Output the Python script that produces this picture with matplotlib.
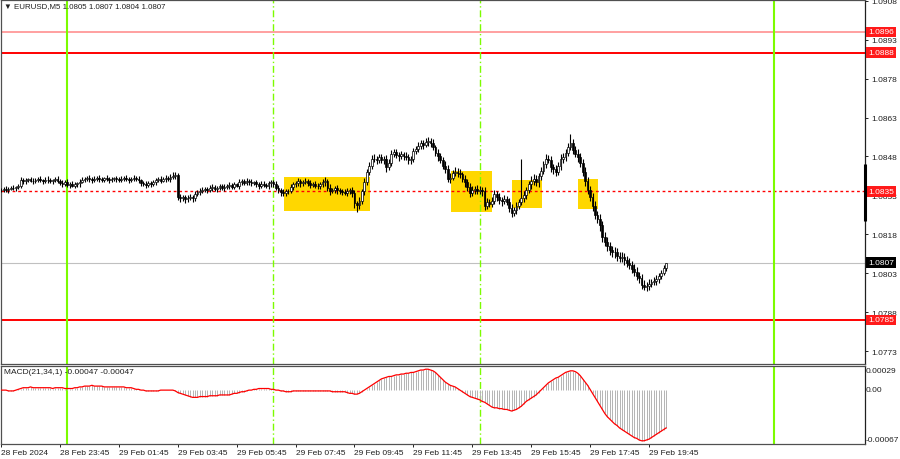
import matplotlib
matplotlib.use("Agg")
import matplotlib.pyplot as plt
from matplotlib.patches import Rectangle
import numpy as np

plt.rcParams['font.family'] = ['Liberation Sans', 'DejaVu Sans']

# ---------------- data ----------------
base = 1.08
first_open_pts = 350
# closes in points (1e-5) above 1.08000, one per M5 bar starting 28 Feb 21:45
close_pts = [
    352, 355, 350, 356, 360, 358, 362, 365, 388, 384,
    388, 392, 386, 384, 390, 394, 388, 386, 391, 388,
    385, 389, 393, 387, 378, 375, 380, 370, 374, 367,
    372, 376, 382, 390, 394, 398, 392, 388, 395, 398,
    394, 390, 396, 392, 388, 394, 396, 392, 388, 394,
    398, 393, 389, 394, 398, 395, 388, 378, 374, 370,
    376, 372, 382, 388, 392, 386, 394, 398, 392, 400,
    405, 410, 322, 318, 322, 315, 320, 325, 318, 335,
    342, 348, 352, 356, 350, 358, 362, 355, 360, 365,
    358, 362, 366, 370, 364, 372, 368, 380, 384, 378,
    386, 382, 376, 380, 372, 368, 374, 370, 366, 376,
    380, 372, 360, 350, 342, 338, 345, 348, 362, 372,
    378, 384, 376, 380, 386, 378, 370, 374, 368, 366,
    372, 380, 384, 360, 348, 352, 358, 350, 346, 344,
    340, 348, 352, 338, 300, 292, 310, 345, 380, 420,
    445, 472, 470, 465, 476, 468, 472, 440, 455, 490,
    498, 485, 480, 488, 482, 478, 465, 470, 500, 510,
    520, 530, 525, 535, 540, 532, 515, 495, 480, 465,
    445, 432, 392, 398, 415, 422, 418, 412, 395, 380,
    362, 340, 352, 355, 348, 352, 345, 290, 305, 298,
    310, 335, 325, 312, 308, 315, 305, 280, 262, 275,
    290, 305, 320, 330, 350, 372, 385, 395, 380, 405,
    425, 450, 470, 468, 440, 430, 420, 445, 470, 478,
    495, 515, 530, 505, 490, 478, 455, 420, 385, 350,
    325, 290, 255, 240, 215, 170, 150, 135, 120, 110,
    112, 95, 88, 92, 80, 70, 62, 48, 35, 20,
    10, -15, -22, -18, -10, -5, 0, 8, 18, 30,
    50, 70,
]
wick_up_pts = [
    8, 6, 12, 6, 8, 10, 6, 8, 14, 10,
    8, 6, 10, 12, 6, 8, 10, 6, 8, 12,
    10, 6, 8, 12, 6, 10, 8, 12, 6, 10,
    8, 6, 12, 10, 8, 6, 12, 10, 8, 6,
    10, 8, 6, 12, 10, 8, 6, 10, 8, 12,
    6, 10, 8, 6, 12, 8, 10, 6, 8, 12,
    10, 8, 6, 10, 8, 12, 6, 10, 8, 12,
    16, 10, 8, 12, 10, 8, 10, 12, 8, 10,
    8, 12, 10, 6, 8, 12, 10, 8, 6, 10,
    8, 10, 6, 12, 8, 10, 6, 12, 10, 8,
    10, 8, 12, 6, 10, 8, 12, 10, 6, 8,
    10, 8, 12, 10, 8, 12, 10, 8, 12, 10,
    8, 12, 10, 8, 12, 6, 10, 8, 12, 10,
    8, 12, 16, 10, 12, 8, 10, 12, 8, 10,
    12, 10, 8, 12, 14, 10, 12, 10, 16, 12,
    14, 12, 16, 10, 12, 14, 10, 12, 16, 14,
    12, 10, 14, 12, 10, 16, 12, 10, 14, 12,
    16, 12, 14, 18, 16, 12, 14, 10, 12, 14,
    12, 16, 14, 18, 12, 16, 14, 12, 10, 14,
    12, 16, 14, 12, 16, 14, 12, 18, 14, 12,
    14, 16, 12, 14, 10, 16, 12, 14, 16, 12,
    14, 12, 151, 16, 14, 12, 18, 16, 14, 12,
    16, 14, 18, 16, 14, 12, 16, 14, 18, 16,
    14, 18, 38, 16, 14, 18, 16, 14, 18, 16,
    18, 16, 20, 14, 18, 16, 20, 18, 14, 16,
    18, 14, 16, 20, 14, 16, 18, 14, 16, 18,
    14, 16, 18, 14, 16, 12, 14, 16, 12, 14,
    12, 0,
]
wick_dn_pts = [
    6, 10, 8, 12, 6, 8, 10, 6, 8, 12,
    10, 8, 6, 12, 8, 10, 6, 12, 8, 10,
    8, 12, 6, 10, 8, 12, 10, 8, 12, 6,
    10, 8, 12, 6, 10, 8, 12, 10, 6, 8,
    12, 8, 10, 6, 12, 8, 10, 12, 6, 8,
    10, 8, 12, 6, 10, 8, 12, 10, 8, 12,
    8, 10, 6, 12, 8, 10, 6, 12, 8, 10,
    8, 12, 10, 12, 10, 14, 10, 8, 12, 10,
    8, 12, 10, 8, 12, 6, 10, 8, 12, 10,
    6, 10, 8, 12, 10, 8, 6, 12, 10, 8,
    8, 12, 10, 6, 8, 12, 10, 8, 6, 10,
    12, 10, 8, 12, 14, 10, 12, 8, 10, 12,
    8, 10, 12, 8, 6, 10, 12, 8, 10, 12,
    10, 8, 12, 14, 16, 10, 12, 14, 10, 12,
    10, 14, 12, 16, 18, 26, 14, 12, 14, 10,
    12, 14, 10, 16, 12, 14, 16, 18, 14, 12,
    14, 12, 16, 10, 14, 12, 16, 14, 10, 12,
    14, 12, 16, 10, 14, 16, 12, 14, 16, 12,
    14, 16, 12, 14, 10, 12, 16, 14, 12, 16,
    14, 18, 12, 16, 14, 12, 16, 16, 14, 12,
    14, 12, 16, 14, 18, 12, 14, 16, 14, 12,
    16, 14, 12, 16, 14, 12, 16, 14, 12, 16,
    14, 12, 16, 14, 18, 16, 14, 12, 16, 14,
    16, 14, 12, 16, 14, 18, 16, 14, 18, 16,
    18, 20, 16, 18, 22, 18, 16, 20, 18, 16,
    20, 18, 16, 14, 18, 16, 14, 18, 16, 18,
    16, 16, 14, 18, 16, 14, 12, 16, 14, 10,
    8, 10,
]
# MACD(21,34,1) main value per bar, in units of 1e-5
macd_pts = [
    0, 0, 0, -1, -1, -1, 0, 1, 2, 3,
    3, 3, 4, 3, 3, 3, 3, 3, 3, 3,
    3, 2, 3, 3, 3, 3, 2, 2, 2, 2,
    3, 3, 4, 4, 5, 5, 5, 6, 5, 5,
    5, 5, 4, 4, 4, 4, 4, 4, 4, 4,
    4, 3, 3, 3, 2, 1, 1, 0, 0, -1,
    -1, -1, -1, -1, -1, 0, 0, 0, 0, 0,
    0, -1, -3, -4, -5, -6, -7, -8, -9, -9,
    -9, -8, -8, -8, -8, -7, -7, -7, -7, -6,
    -6, -6, -6, -6, -5, -4, -4, -3, -2, -2,
    -1, 0, 0, 1, 1, 2, 2, 2, 2, 2,
    1, 1, 0, 0, -1, -1, -2, -2, -2, -1,
    -1, -1, -1, -1, -1, -1, -1, -1, -1, -1,
    -1, -1, -1, -1, -1, -2, -2, -2, -2, -2,
    -2, -3, -4, -4, -5, -5, -4, -2, 0, 2,
    4, 6, 8, 10, 12, 14, 15, 16, 17, 17,
    18, 19, 19, 20, 20, 21, 21, 22, 22, 23,
    24, 25, 25, 26, 26, 25, 24, 22, 19, 16,
    13, 10, 8, 6, 5, 4, 2, 0, -2, -4,
    -6, -8, -9, -10, -11, -12, -14, -15, -17, -19,
    -21, -22, -22, -23, -23, -24, -24, -25, -26, -25,
    -24, -22, -20, -17, -14, -12, -10, -8, -6, -3,
    0, 3, 6, 9, 11, 13, 15, 16, 18, 20,
    22, 23, 24, 24, 23, 21, 18, 14, 10, 6,
    1, -4, -9, -14, -19, -24, -29, -33, -36, -39,
    -42, -44, -47, -49, -51, -53, -55, -57, -59, -60,
    -62, -63, -63, -62, -61, -59, -57, -55, -53, -51,
    -49, -47,
]

title_text = "▼ EURUSD,M5 1.0805 1.0807 1.0804 1.0807"
macd_text = "MACD(21,34,1) -0.00047 -0.00047"

price_ticks = [1.0908, 1.0893, 1.0878, 1.0863, 1.0848, 1.0833, 1.0818, 1.0803, 1.0788, 1.0773]
macd_tick_labels = ["0.00029", "0.00", "-0.00067"]

time_tick_bars = [0, 24, 48, 72, 96, 120, 144, 168, 192, 216, 240, 264]
time_tick_labels = ["28 Feb 2024", "28 Feb 23:45", "29 Feb 01:45", "29 Feb 03:45",
                    "29 Feb 05:45", "29 Feb 07:45", "29 Feb 09:45", "29 Feb 11:45",
                    "29 Feb 13:45", "29 Feb 15:45", "29 Feb 17:45", "29 Feb 19:45"]

day_sep_bars = [27, 315]        # 00:00 lines (solid green)
session_bars = [111, 195]       # 07:00 and 14:00 (dash-dot green)

box_start = [115.4, 183.3, 208.1, 235.0]
box_end = [150.4, 200.0, 220.3, 243.1]
box_low = [1.08270, 1.08266, 1.08282, 1.08278]
box_high = [1.08402, 1.08425, 1.08390, 1.08394]

line_prices = [1.0896, 1.0888, 1.08345, 1.0807, 1.0785]
line_labels = ["1.0896", "1.0888", "1.0835", "1.0807", "1.0785"]
line_colors = ['#ffa0a0', '#ff0000', '#ff0000', '#c0c0c0', '#ff0000']
line_styles = ['-', '-', (0, (2, 2)), '-', '-']
line_widths = [1.4, 1.4, 1.0, 0.8, 1.4]
box_colors = ['#ff1a1a', '#ff1a1a', '#ff1a1a', '#000000', '#ff1a1a']

# ---------------- figure ----------------
W, H = 900, 460
fig = plt.figure(figsize=(W / 100, H / 100), dpi=100)
fig.patch.set_facecolor('white')

def fx(px):
    return px / W

def fy(py):
    return 1 - py / H

left_px, right_px = 0.5, 865
ax = fig.add_axes([fx(left_px), fy(365), fx(right_px - left_px), (365 - 0.5) / H])
ax2 = fig.add_axes([fx(left_px), fy(445), fx(right_px - left_px), (445 - 367) / H])

bar_px = 2.454
x0_px = 1.1
xmin = (left_px - x0_px) / bar_px
xmax = (right_px - x0_px) / bar_px

# price data
close = base + np.array(close_pts) / 1e5
opens = np.concatenate([[base + first_open_pts / 1e5], close[:-1]])
high = np.maximum(opens, close) + np.array(wick_up_pts) / 1e5
low = np.minimum(opens, close) - np.array(wick_dn_pts) / 1e5
xb = np.arange(len(close))
bull = close >= opens

# yellow boxes
for s, e, lo, hi in zip(box_start, box_end, box_low, box_high):
    ax.add_patch(Rectangle((s, lo), e - s, hi - lo, facecolor='#ffd700', edgecolor='none', zorder=1))

# horizontal lines
for p, c, ls, lw in zip(line_prices, line_colors, line_styles, line_widths):
    ax.axhline(p, color=c, linestyle=ls, linewidth=lw, zorder=2)

# vertical lines
for a in (ax, ax2):
    for b in day_sep_bars:
        a.axvline(b, color='#7cfc00', linewidth=1.5, zorder=2)
    for b in session_bars:
        a.axvline(b, color='#7cfc00', linewidth=1.0, linestyle=(0, (5, 2, 1, 2)), zorder=2)

# candles
ax.vlines(xb, low, high, color='black', linewidth=0.8, zorder=3)
ax.bar(xb[bull], (close - opens)[bull], bottom=opens[bull], width=0.72,
       color='white', edgecolor='black', linewidth=0.5, zorder=4)
ax.bar(xb[~bull], (opens - close)[~bull], bottom=close[~bull], width=0.72,
       color='black', edgecolor='black', linewidth=0.5, zorder=4)

ax.set_xlim(xmin, xmax)
ax.set_ylim(1.07680, 1.09085)
ax.set_xticks([])
ax.yaxis.tick_right()
ax.set_yticks(price_ticks)
ax.set_yticklabels([f"{p:.4f}" for p in price_ticks])
ax.tick_params(axis='y', length=2.5, width=0.7, labelsize=6, pad=2, colors='#202020')

# price label boxes
ytr = ax.get_yaxis_transform()
for p, t, bc in zip(line_prices, line_labels, box_colors):
    ax.text(1.0035, p, t, transform=ytr, ha='left', va='center', color='white',
            fontsize=6, clip_on=False, zorder=10,
            bbox=dict(boxstyle='square,pad=0.22', facecolor=bc, edgecolor='none'))

# thick black marker on price scale
ax.plot([1.0, 1.0], [1.08232, 1.08452], transform=ytr, color='black', linewidth=2.2,
        clip_on=False, zorder=11, solid_capstyle='butt')

# MACD panel
macd = np.array(macd_pts) / 1e5
ax2.vlines(xb, 0, macd, color='#b4b4b4', linewidth=0.7, zorder=3)
ax2.plot(xb, macd, color='#ff0000', linewidth=0.9, zorder=4)
ax2.set_xlim(xmin, xmax)
ax2.set_ylim(-0.00067, 0.00030)
ax2.set_yticks([])
ax2.set_xticks(time_tick_bars)
ax2.set_xticklabels(time_tick_labels)
for lab in ax2.get_xticklabels():
    lab.set_horizontalalignment('left')
ax2.tick_params(axis='x', length=2.5, width=0.7, labelsize=6, pad=0.8, colors='#202020')

for t, yp in zip(macd_tick_labels, [372, 391, 441]):
    fig.text(fx(866), fy(yp), t, ha='left', va='center', fontsize=6, color='#202020')

for a in (ax, ax2):
    for sp in a.spines.values():
        sp.set_color('#505050')
        sp.set_linewidth(0.9)
    a.spines['right'].set_color('#202020')
    a.set_facecolor('white')

fig.text(fx(4), fy(7), title_text, ha='left', va='center', fontsize=5.7, color='#202020',
         fontfamily=['Liberation Sans', 'DejaVu Sans'])
fig.text(fx(4), fy(373), macd_text, ha='left', va='center', fontsize=6, color='#202020')

fig.savefig('out.png', dpi=100, facecolor='white')
